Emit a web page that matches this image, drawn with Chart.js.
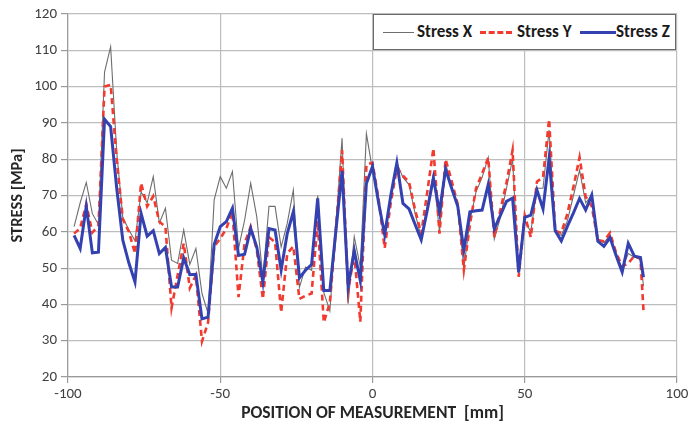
<!DOCTYPE html>
<html>
<head>
<meta charset="utf-8">
<script src="https://cdn.jsdelivr.net/npm/chart.js@4/dist/chart.umd.min.js"></script>
<style>
  html, body { margin: 0; padding: 0; background: #fff; }
  #wrap { position: relative; width: 691px; height: 426px; }
  #legend {
    position: absolute; left: 373px; top: 14px; width: 303px; height: 36px;
    border: 1px solid #6a6a6a; background: #fff; box-sizing: border-box;
    font-family: Carlito, Lato, "Open Sans", sans-serif; font-weight: bold; font-size: 17px; color: #1a1a1a;
  }
  .item { position: absolute; top: 8px; white-space: nowrap; line-height: 18px; }
  .sample { position: absolute; height: 0; }
</style>
</head>
<body>
<div id="wrap">
  <canvas id="c" width="691" height="426"></canvas>
  <div id="legend">
    <span class="sample" style="left:9px;width:31px;border-top:1px solid #6e6e6e;top:17px;"></span>
    <span class="item" style="left:43px;">Stress X</span>
    <span class="sample" style="left:106px;width:32px;border-top:3px dashed #f23a2e;top:16px;"></span>
    <span class="item" style="left:143px;">Stress Y</span>
    <span class="sample" style="left:206px;width:36px;border-top:3px solid #3342b0;top:16px;"></span>
    <span class="item" style="left:242px;">Stress Z</span>
  </div>
</div>
<script>
const positions = [-98,-96,-94,-92,-90,-88,-86,-84,-82,-80,-78,-76,-74,-72,-70,-68,-66,-64,-62,-60,
  -58,-56,-54,-52,-50,-48,-46,-44,-42,-40,-38,-36,-34,-32,-30,-28,-26,-24,-22,-20,
  -18,-16,-14,-12,-10,-8,-6,-4,-2,0,2,4,6,8,10,12,14,16,18,20,
  22,24,26,28,30,32,34,36,38,40,42,44,46,48,50,52,54,56,58,60,
  62,64,66,68,70,72,74,76,78,80,82,84,86,88,89];

const stressX = [61.4,68,73.6,65,62,104,111,82,64,60.5,57.5,71,68,75.2,62.4,66.5,52.2,51.3,60.5,51,
  55.4,43,37.5,68.8,75.2,72,76.6,55.4,63.2,73.4,64.1,47.5,67,67,55.8,62.3,71.5,44.7,50.3,49.4,
  70,43.3,38.2,62,85.8,40.2,58.7,50.3,87,77,68,59,70,79,75,73,65,58.5,67,76,
  60,79,72,67,50,63,71,75,80.5,58,64,72,80,48,63,60,72,72,88,60,
  59,63,70,77,68,70,58,57,59,54,50,54,53,52.5,45];

const stressY = [59.5,61,67.6,59.8,61.7,100,100.5,80,63.5,60,54,73.4,67,69.8,62.8,61.4,39,48,56.8,44.5,
  48,29.8,35,56,58.1,60.9,65.5,42,56.8,61.4,55,41.5,58.5,57.2,37.8,54,56,41.5,42.4,43,
  63,35,40.5,61,82.5,43.6,54,35.2,78.5,79,69,55.5,68,77.5,75.5,73.7,66,59.5,71,83,
  59.5,80,74,67.5,49.5,62,72,76,80.4,58.5,66,73.5,82.5,47.6,64.5,58.5,73.8,75,91,60.3,
  59.7,65,72.4,80.5,69.7,67,57.7,57.4,59.7,54.2,50.5,51.3,53.4,52.5,38.3];

const stressZ = [59,55.4,67,54.2,54.4,91,89,72,57.7,51.4,46.2,65.1,58.8,60.3,54,55.7,44.8,44.8,52.8,48.2,
  48.3,36,36.5,56.5,61.4,62.8,66.5,53.5,53.8,60.9,55.8,46.1,60.9,60.5,49.5,59.5,65.5,47.3,49.4,51,
  69.2,43.8,43.8,60.5,76.8,45,54.8,46.5,73.3,78,68,59.2,70,79,67.8,66.3,62,57.8,66,74.8,
  65.5,77.2,72,67,55,65.5,65.8,66,73,60.8,64.5,68.4,69.3,48.8,64,64.6,71.5,66.3,80.3,60.3,
  57.5,61.5,65.2,69.2,66,70.1,57.4,56,58.4,53.5,48.9,56.8,53.3,52.9,47.5];

const seriesNames = ['Stress X', 'Stress Y', 'Stress Z'];
const yTicks = [20, 30, 40, 50, 60, 70, 80, 90, 100, 110, 120];
const xTicks = [-100, -50, 0, 50, 100];

const pts = arr => positions.map((p, i) => ({ x: p, y: arr[i] }));
const FONT = 'Carlito, Lato, "Open Sans", sans-serif';

new Chart(document.getElementById('c'), {
  type: 'line',
  data: {
    datasets: [
      { label: seriesNames[0], data: pts(stressX), borderColor: '#6e6e6e', borderWidth: 1.1, pointRadius: 0, tension: 0, order: 3 },
      { label: seriesNames[1], data: pts(stressY), borderColor: '#f23a2e', borderWidth: 2.6, borderDash: [6, 4], pointRadius: 0, tension: 0, order: 2 },
      { label: seriesNames[2], data: pts(stressZ), borderColor: '#3342b0', borderWidth: 3, pointRadius: 0, tension: 0, order: 1 }
    ]
  },
  options: {
    responsive: false,
    animation: false,
    events: [],
    layout: { padding: { top: 14, right: 14, left: 0, bottom: 0 } },
    plugins: { legend: { display: false }, tooltip: { enabled: false } },
    scales: {
      x: {
        type: 'linear', min: -100, max: 100,
        afterBuildTicks: s => { s.ticks = xTicks.map(v => ({ value: v })); },
        afterFit: s => { s.height = 49; },
        grid: { color: '#bdbdbd', lineWidth: 1.2, drawTicks: true, tickLength: 6, tickColor: '#9a9a9a' },
        border: { color: '#9a9a9a', width: 1.2 },
        ticks: { font: { family: FONT, size: 15 }, color: '#404040', padding: 2, maxRotation: 0 },
        title: { display: true, text: 'POSITION OF MEASUREMENT  [mm]', font: { family: FONT, size: 17.5, weight: 'bold' }, color: '#262626', padding: { top: 0, bottom: 2 } }
      },
      y: {
        type: 'linear', min: 20, max: 120,
        afterBuildTicks: s => { s.ticks = yTicks.map(v => ({ value: v })); },
        afterFit: s => { s.width = 68; },
        grid: { color: '#bdbdbd', lineWidth: 1.2, drawTicks: true, tickLength: 7, tickColor: '#9a9a9a' },
        border: { color: '#9a9a9a', width: 1.2 },
        ticks: { font: { family: FONT, size: 15 }, color: '#404040', padding: 4 },
        title: { display: true, text: 'STRESS [MPa]', font: { family: FONT, size: 16.5, weight: 'bold' }, color: '#262626', padding: { top: 8, bottom: 0 } }
      }
    }
  }
});
</script>
</body>
</html>
